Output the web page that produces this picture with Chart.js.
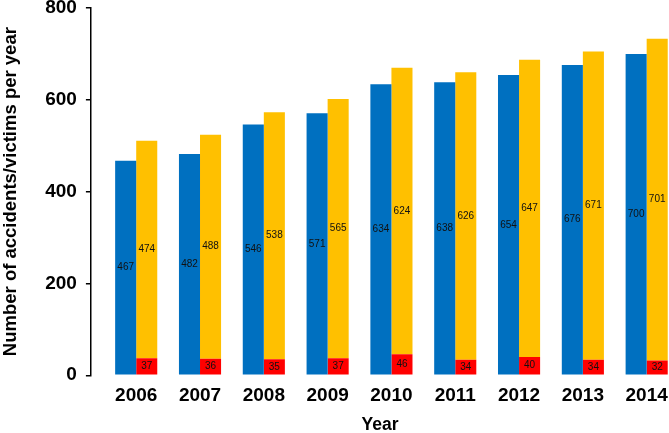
<!DOCTYPE html>
<html>
<head>
<meta charset="utf-8">
<script src="https://cdn.jsdelivr.net/npm/chart.js@4"></script>
<style>
  html, body { margin: 0; padding: 0; background: #fff; }
  #wrap { width: 669px; height: 433px; }
</style>
</head>
<body>
<div id="wrap"><canvas id="chart" width="669" height="433"></canvas></div>
<script>
const years = [2006, 2007, 2008, 2009, 2010, 2011, 2012, 2013, 2014];
const accidents = [467, 482, 546, 571, 634, 638, 654, 676, 700];
const injured = [474, 488, 538, 565, 624, 626, 647, 671, 701];
const killed = [37, 36, 35, 37, 46, 34, 40, 34, 32];
const yTicks = [0, 200, 400, 600, 800];

const FONT = "'Liberation Sans', Arial, sans-serif";

// write each value in the middle of its bar
const barLabels = {
  id: 'barLabels',
  afterDatasetsDraw(chart) {
    const ctx = chart.ctx;
    ctx.save();
    ctx.font = "10px " + FONT;
    ctx.fillStyle = '#111';
    ctx.textAlign = 'center';
    ctx.textBaseline = 'middle';
    chart.data.datasets.forEach((ds, i) => {
      const meta = chart.getDatasetMeta(i);
      meta.data.forEach((bar, j) => {
        const p = bar.getCenterPoint();
        ctx.fillText(String(ds.data[j].y), p.x, p.y);
      });
    });
    ctx.restore();
  }
};

const toPoints = arr => arr.map((v, i) => ({ x: years[i], y: v }));

new Chart(document.getElementById('chart').getContext('2d'), {
  type: 'bar',
  data: {
    datasets: [
      { label: 'Accidents', data: toPoints(accidents), backgroundColor: '#0070C0', stack: 'a' },
      { label: 'Killed', data: toPoints(killed), backgroundColor: '#FF0000', stack: 'b' },
      { label: 'Injured', data: toPoints(injured), backgroundColor: '#FFC000', stack: 'b' }
    ]
  },
  plugins: [barLabels],
  options: {
    responsive: false,
    animation: false,
    barPercentage: 1,
    categoryPercentage: 0.66,
    layout: { padding: { top: 8, right: 0, bottom: -0.75, left: 0 } },
    plugins: {
      legend: { display: false },
      tooltip: { enabled: false }
    },
    scales: {
      x: {
        type: 'linear',
        min: 2005.29,
        max: 2014.35,
        offset: false,
        afterBuildTicks: axis => { axis.ticks = years.map(v => ({ value: v })); },
        // let the last bar reach the right edge like the original
        afterFit: axis => { axis.paddingLeft = 0; axis.paddingRight = 0; },
        ticks: {
          callback: v => String(v),
          color: '#000',
          font: { family: FONT, size: 19, weight: 'bold', lineHeight: 1 },
          maxRotation: 0,
          autoSkip: false,
          padding: 11
        },
        grid: { display: false, drawTicks: false },
        border: { display: false },
        title: {
          display: true,
          text: 'Year',
          color: '#000',
          font: { family: FONT, size: 17.5, weight: 'bold', lineHeight: 1 },
          padding: { top: 0, bottom: 0 }
        }
      },
      y: {
        stacked: true,
        min: 0,
        max: 800,
        afterBuildTicks: axis => { axis.ticks = yTicks.map(v => ({ value: v })); },
        afterFit: axis => { axis.paddingTop = 0; axis.paddingBottom = 0; },
        ticks: {
          color: '#000',
          font: { family: FONT, size: 19, weight: 'bold', lineHeight: 1 },
          padding: 9
        },
        grid: {
          drawOnChartArea: false,
          drawTicks: true,
          tickLength: 5,
          color: '#000',
          lineWidth: 1.5
        },
        border: { display: true, color: '#000', width: 1.5 },
        title: {
          display: true,
          text: 'Number of accidents/victims per year',
          color: '#000',
          font: { family: FONT, size: 18.5, weight: 'bold' },
          padding: { top: 0, bottom: 14 }
        }
      }
    }
  }
});
</script>
</body>
</html>
